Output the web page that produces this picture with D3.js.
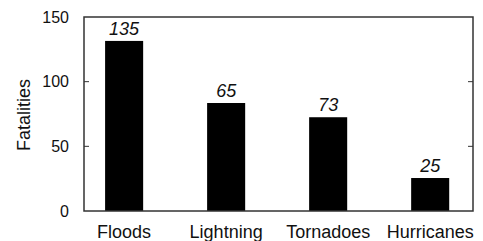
<!DOCTYPE html>
<html>
<head>
<meta charset="utf-8">
<script src="https://cdn.jsdelivr.net/npm/d3@7"></script>
<style>
  body { margin: 0; background: #fff; }
  text { font-family: "Liberation Sans", Arial, sans-serif; fill: #111; }
</style>
</head>
<body>
<div id="chart"></div>
<script>
// data
const categories = ['Floods', 'Lightning', 'Tornadoes', 'Hurricanes'];
const values = [131.5, 83.5, 72.5, 25.5];        // bar heights as drawn
const valueLabels = ['135', '65', '73', '25'];    // printed labels
const yTicks = [0, 50, 100, 150];

const width = 483, height = 241;
const margin = {top: 17, right: 10, bottom: 30, left: 84};

const svg = d3.select('#chart')
  .append('svg')
  .attr('width', width)
  .attr('height', height);

const x = d3.scaleBand()
  .domain(categories)
  .range([margin.left, width - margin.right])
  .paddingInner(0.627)
  .paddingOuter(0.22)
  .align(0.47);

const y = d3.scaleLinear()
  .domain([0, 150])
  .range([height - margin.bottom, margin.top]);

// bars
svg.append('g')
  .selectAll('rect')
  .data(values)
  .join('rect')
  .attr('x', (d, i) => x(categories[i]))
  .attr('y', d => y(d))
  .attr('width', x.bandwidth())
  .attr('height', d => y(0) - y(d))
  .attr('fill', '#000');

// value labels
svg.append('g')
  .selectAll('text')
  .data(values)
  .join('text')
  .attr('x', (d, i) => x(categories[i]) + x.bandwidth() / 2)
  .attr('y', d => y(d) - 6)
  .attr('text-anchor', 'middle')
  .attr('font-size', 18)
  .attr('font-style', 'italic')
  .text((d, i) => valueLabels[i]);

// frame
svg.append('rect')
  .attr('x', margin.left)
  .attr('y', margin.top)
  .attr('width', width - margin.right - margin.left)
  .attr('height', y(0) - margin.top)
  .attr('fill', 'none')
  .attr('stroke', '#333')
  .attr('stroke-width', 1.5);

// inward ticks, left and right
const inner = yTicks.filter(t => t > 0 && t < 150);
svg.append('g')
  .selectAll('line.l')
  .data(inner)
  .join('line')
  .attr('x1', margin.left).attr('x2', margin.left + 5)
  .attr('y1', d => y(d)).attr('y2', d => y(d))
  .attr('stroke', '#333');
svg.append('g')
  .selectAll('line.r')
  .data(inner)
  .join('line')
  .attr('x1', width - margin.right).attr('x2', width - margin.right - 5)
  .attr('y1', d => y(d)).attr('y2', d => y(d))
  .attr('stroke', '#333');

// y tick labels
svg.append('g')
  .selectAll('text')
  .data(yTicks)
  .join('text')
  .attr('x', 69)
  .attr('y', d => y(d))
  .attr('dy', '0.36em')
  .attr('text-anchor', 'end')
  .attr('font-size', 16)
  .text(d => d);

// x labels
svg.append('g')
  .selectAll('text')
  .data(categories)
  .join('text')
  .attr('x', d => x(d) + x.bandwidth() / 2)
  .attr('y', 238)
  .attr('text-anchor', 'middle')
  .attr('font-size', 18)
  .text(d => d);

// y axis title
svg.append('text')
  .attr('transform', 'translate(30,115) rotate(-90)')
  .attr('text-anchor', 'middle')
  .attr('font-size', 18)
  .text('Fatalities');
</script>
</body>
</html>
